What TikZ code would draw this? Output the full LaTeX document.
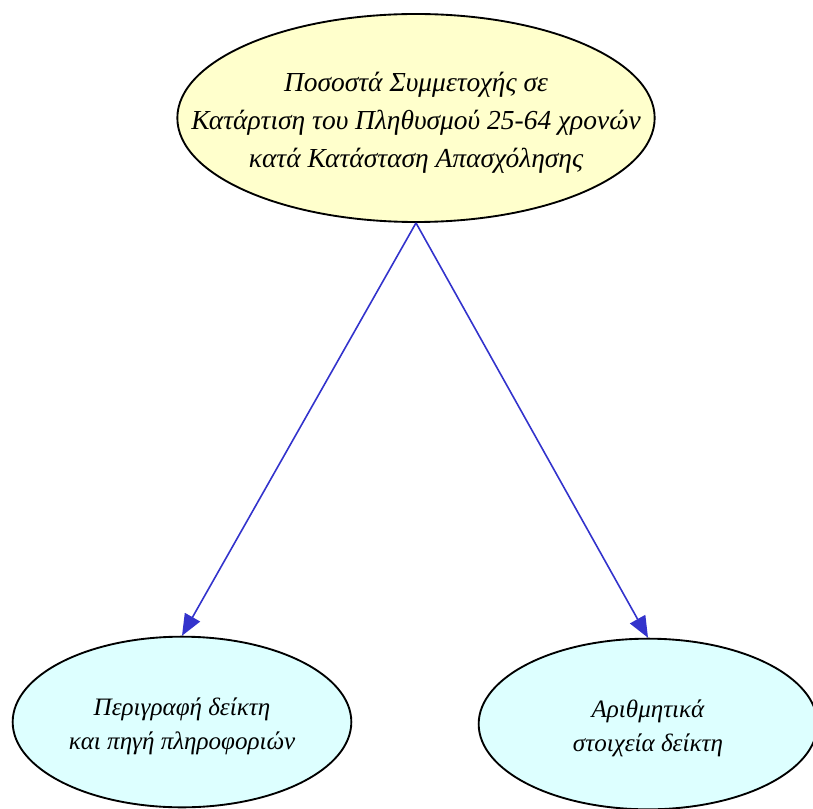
\documentclass[tikz,border=0pt]{standalone}
\usepackage{fontspec}
\setmainfont{Liberation Serif}
\usepackage{xcolor}
\usetikzlibrary{shapes.geometric, arrows.meta, positioning}
\definecolor{edgeblue}{HTML}{3333CC}
\definecolor{topfill}{HTML}{FFFFCC}
\definecolor{leaffill}{HTML}{DDFFFF}
% text that does not push the ellipse wider
\newcommand{\ovaltext}[1]{\smash{\makebox[0pt]{\raisebox{-0.38em}{\begin{tabular}{@{}c@{}}#1\end{tabular}}}}}

\begin{document}
\begin{tikzpicture}[
    x=0.75pt, y=-0.75pt,
    every node/.style={draw, ellipse, line width=1.4pt, inner sep=0pt},
    topnode/.style={fill=topfill, minimum width=358pt, minimum height=156pt, font=\itshape\fontsize{20.6}{28.5}\selectfont},
    leafnode/.style={fill=leaffill, minimum width=254pt, minimum height=128pt, font=\itshape\fontsize{18.8}{25.5}\selectfont},
    arrow/.style={-{Triangle[length=16pt, width=13pt]}, line width=1.2pt, color=edgeblue}
]
\useasboundingbox (0,0) rectangle (813,809);
\node[topnode] (share) at (416,118) {\ovaltext{Ποσοστά Συμμετοχής σε\\Κατάρτιση του Πληθυσμού 25-64 χρονών\\κατά Κατάσταση Απασχόλησης}};
\node[leafnode] (desc) at (182,722) {\ovaltext{Περιγραφή δείκτη\\και πηγή πληροφοριών}};
\node[leafnode] (stats) at (648,724) {\ovaltext{Αριθμητικά\\στοιχεία δείκτη}};

\draw[arrow] (share.south) -- (desc.north);
\draw[arrow] (share.south) -- (stats.north);
\end{tikzpicture}
\end{document}
